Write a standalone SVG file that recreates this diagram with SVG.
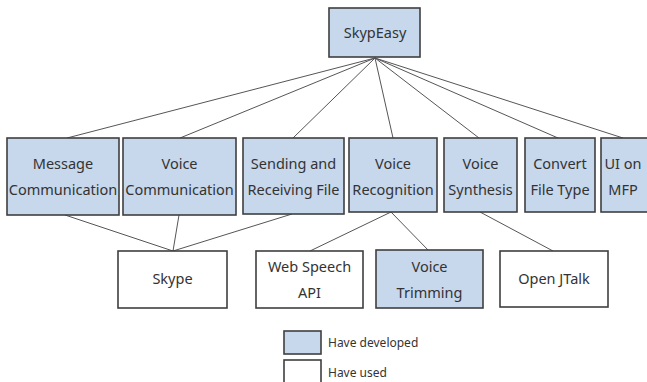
<svg xmlns="http://www.w3.org/2000/svg" width="647" height="382" viewBox="0 0 647 382">
<style>
.dev{fill:#c7d7ec;stroke:#3f3f3f;stroke-width:1.6}
.use{fill:#ffffff;stroke:#3f3f3f;stroke-width:1.6}
text{font-family:"Noto Sans","DejaVu Sans",sans-serif;font-size:14.5px;fill:#333;text-anchor:middle}
.lg{text-anchor:start;font-size:12px}
#connectors line{stroke:#555;stroke-width:1}
</style>
<rect width="647" height="382" fill="#fff"/>
<g id="connectors">
<line x1="375" y1="58" x2="67" y2="138"/>
<line x1="375" y1="58" x2="180" y2="138"/>
<line x1="375" y1="58" x2="293" y2="138"/>
<line x1="375" y1="58" x2="393" y2="138"/>
<line x1="375" y1="58" x2="479" y2="138"/>
<line x1="375" y1="58" x2="558" y2="138"/>
<line x1="375" y1="58" x2="623" y2="138"/>
<line x1="65" y1="215" x2="173" y2="251"/>
<line x1="179" y1="215" x2="173" y2="251"/>
<line x1="292" y1="214" x2="173" y2="251"/>
<line x1="391" y1="212" x2="310" y2="251"/>
<line x1="391" y1="212" x2="429" y2="251"/>
<line x1="480" y1="212" x2="553" y2="251"/>
</g>
<g id="skypeasy"><rect class="dev" x="329" y="8" width="91" height="49"/><text x="375" y="38">SkypEasy</text></g>
<g id="message"><rect class="dev" x="7" y="138" width="112" height="77"/><text x="63" y="169">Message</text><text x="63" y="195">Communication</text></g>
<g id="voicecomm"><rect class="dev" x="123" y="138" width="113" height="77"/><text x="179.5" y="169">Voice</text><text x="179.5" y="195">Communication</text></g>
<g id="sending"><rect class="dev" x="243" y="138" width="101" height="76"/><text x="293.5" y="169">Sending and</text><text x="293.5" y="195">Receiving File</text></g>
<g id="recognition"><rect class="dev" x="349" y="138" width="88" height="74"/><text x="393" y="169">Voice</text><text x="393" y="195">Recognition</text></g>
<g id="synthesis"><rect class="dev" x="444" y="138" width="73" height="74"/><text x="480.5" y="169">Voice</text><text x="480.5" y="195">Synthesis</text></g>
<g id="convert"><rect class="dev" x="525" y="138" width="70" height="74"/><text x="560" y="169">Convert</text><text x="560" y="195">File Type</text></g>
<g id="uimfp"><rect class="dev" x="601" y="138" width="60" height="74"/><text x="623" y="169">UI on</text><text x="623" y="195">MFP</text></g>
<g id="skype"><rect class="use" x="118" y="251" width="109" height="57"/><text x="172.5" y="284">Skype</text></g>
<g id="webspeech"><rect class="use" x="256" y="251" width="107" height="57"/><text x="309.5" y="272">Web Speech</text><text x="309.5" y="298">API</text></g>
<g id="trimming"><rect class="dev" x="376" y="250" width="107" height="58"/><text x="429.5" y="272">Voice</text><text x="429.5" y="298">Trimming</text></g>
<g id="openjtalk"><rect class="use" x="500" y="251" width="108" height="56"/><text x="554" y="284">Open JTalk</text></g>
<g id="legend">
<rect class="dev" x="284" y="331" width="37" height="23"/>
<text class="lg" x="328" y="347">Have developed</text>
<rect class="use" x="284" y="360" width="37" height="26"/>
<text class="lg" x="328" y="377">Have used</text>
</g>
</svg>
